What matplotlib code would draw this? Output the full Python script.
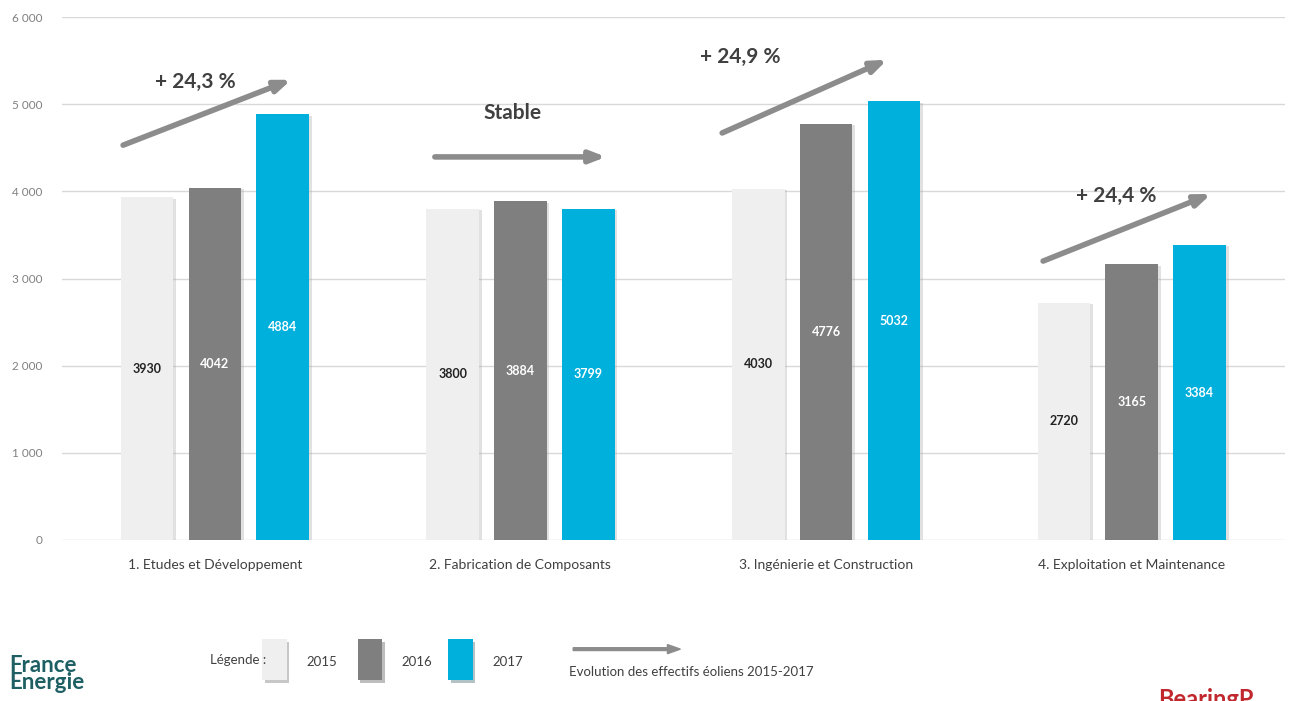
import numpy as np
import matplotlib
matplotlib.use("Agg")
import matplotlib.pyplot as plt
import matplotlib.patheffects as pe
from matplotlib.patches import Rectangle, FancyArrow

plt.rcParams['font.family'] = ['Lato', 'DejaVu Sans']

# --- data ---
categories = ["1. Etudes et Développement", "2. Fabrication de Composants",
              "3. Ingénierie et Construction", "4. Exploitation et Maintenance"]
years = ["2015", "2016", "2017"]
v2015 = [3930, 3800, 4030, 2720]
v2016 = [4042, 3884, 4776, 3165]
v2017 = [4884, 3799, 5032, 3384]
trend_labels = ["+ 24,3 %", "Stable", "+ 24,9 %", "+ 24,4 %"]
yticks = [0, 1000, 2000, 3000, 4000, 5000, 6000]

colors = ["#efefef", "#7f7f7f", "#00b0dc"]
label_colors = ["#222222", "white", "white"]
arrow_col = "#8c8c8c"

fig = plt.figure(figsize=(12.91, 7.01), dpi=100)
ax = fig.add_axes([0.048, 0.2297, 0.947, 0.746])

x = np.arange(len(categories))
width = 0.172
offset = 0.222
shadow = [pe.SimplePatchShadow(offset=(2, -1), shadow_rgbFace="#aaaaaa", alpha=0.35), pe.Normal()]

for k, vals in enumerate([v2015, v2016, v2017]):
    pos = x + (k - 1) * offset
    bars = ax.bar(pos, vals, width=width, color=colors[k], zorder=3)
    for b in bars:
        b.set_path_effects(shadow)
    for p, v in zip(pos, vals):
        ax.text(p, v / 2, str(v), ha="center", va="center", fontsize=9,
                fontweight="bold", color=label_colors[k], zorder=4)

# trend arrows (start, end) and label positions in data coords
arrow_start = [(-0.30, 4530), (0.72, 4395), (1.66, 4670), (2.71, 3200)]
arrow_end = [(0.25, 5280), (1.28, 4395), (2.20, 5510), (3.26, 3970)]
text_pos = [(-0.065, 5250), (0.975, 4900), (1.72, 5540), (2.95, 3945)]
for s, e, tp, lab in zip(arrow_start, arrow_end, text_pos, trend_labels):
    ax.annotate("", xy=e, xytext=s,
                arrowprops=dict(arrowstyle="-|>,head_length=0.9,head_width=0.35",
                                lw=4, color=arrow_col, shrinkA=0, shrinkB=0), zorder=5)
    ax.text(tp[0], tp[1], lab, ha="center", va="center", fontsize=15,
            fontweight="bold", color="#404040", zorder=5)

ax.set_xlim(-0.5, 3.5)
ax.set_ylim(0, 6000)
ax.set_yticks(yticks)
ax.set_yticklabels([f"{t:,}".replace(",", " ") for t in yticks], color="#808080", fontsize=8.5)
ax.set_xticks(x)
ax.set_xticklabels(categories, fontsize=10, color="#404040")
ax.tick_params(length=0, pad=14)
ax.grid(axis="y", color="#d9d9d9", lw=1, zorder=0)
for sp in ax.spines.values():
    sp.set_visible(False)

# --- bottom legend ---
fig.text(0.163, 0.058, "Légende :", fontsize=9.5, color="#404040", va="center")
legend_x = [0.203, 0.277, 0.347]
for lx, c, yr in zip(legend_x, colors, years):
    r = Rectangle((lx, 0.03), 0.019, 0.058, transform=fig.transFigure,
                  facecolor=c, edgecolor="none")
    r.set_path_effects([pe.SimplePatchShadow(offset=(2, -2), alpha=0.3), pe.Normal()])
    fig.add_artist(r)
    fig.text(lx + 0.046, 0.055, yr, fontsize=9.5, color="#404040", va="center", ha="center")
fig.add_artist(FancyArrow(0.444, 0.074, 0.083, 0, width=0.004, head_width=0.013,
                          head_length=0.010, length_includes_head=True,
                          transform=fig.transFigure, color=arrow_col))
fig.text(0.441, 0.041, "Evolution des effectifs éoliens 2015-2017", fontsize=9.5,
         color="#404040", va="center")

fig.text(0.007, 0.038, "France\nEnergie", fontsize=16, fontweight="bold",
         color="#1d5f62", linespacing=0.75, va="center")
fig.text(0.897, 0.002, "BearingP", fontsize=17, fontweight="bold", color="#c0282d", va="center")

fig.savefig("out.png", dpi=100)
